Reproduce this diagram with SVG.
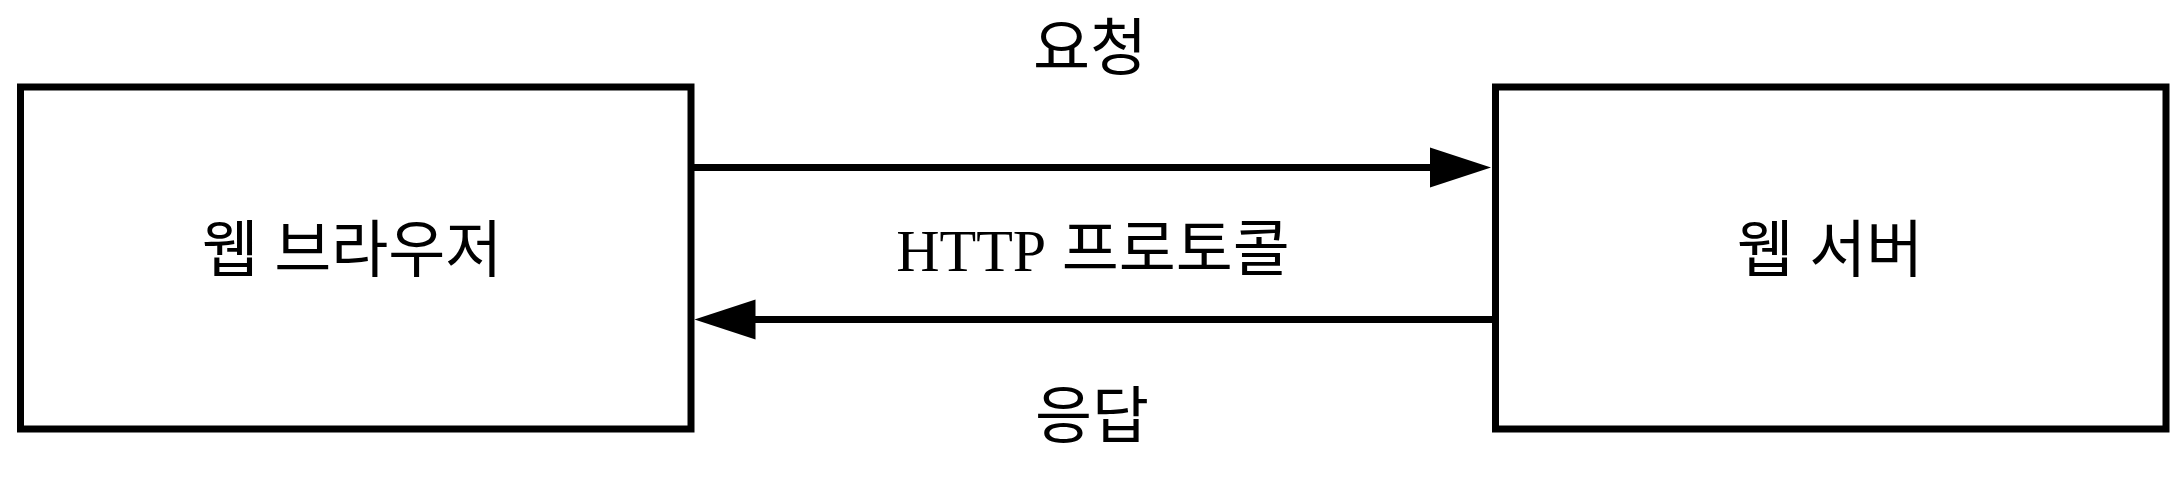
<svg xmlns="http://www.w3.org/2000/svg" width="2184" height="478" viewBox="0 0 2184 478">
  <style>
    .box { fill: #ffffff; stroke: #000000; stroke-width: 7; }
    .conn { fill: none; stroke: #000000; stroke-width: 7; }
    .lbl { font-family: "Liberation Serif", "Noto Sans CJK KR", serif; font-size: 62px; fill: #000000; text-anchor: middle; }
    .lat { font-size: 60px; }
  </style>
  <defs>
    <marker id="arrow" markerUnits="userSpaceOnUse" markerWidth="62" markerHeight="42" refX="1.5" refY="20" orient="auto" overflow="visible">
      <path d="M0,0 L61,20 L0,40 Z" fill="#000000"/>
    </marker>
  </defs>
  <rect width="2184" height="478" fill="#ffffff"/>
  <g id="node-browser">
    <rect class="box" x="20.5" y="87" width="670.5" height="342"/>
    <text class="lbl" x="352" y="272">웹 브라우저</text>
  </g>
  <g id="node-server">
    <rect class="box" x="1495.5" y="87" width="670.5" height="342"/>
    <text class="lbl" x="1830" y="272">웹 서버</text>
  </g>
  <g id="connectors">
    <line class="conn" x1="691" y1="167.5" x2="1431.5" y2="167.5" marker-end="url(#arrow)"/>
    <line class="conn" x1="1495.5" y1="319.5" x2="754" y2="319.5" marker-end="url(#arrow)"/>
    <text class="lbl" x="1090" y="70">요청</text>
    <text class="lbl" x="1093" y="271"><tspan class="lat">HTTP</tspan> 프로토콜</text>
    <text class="lbl" x="1092" y="438">응답</text>
  </g>
</svg>
